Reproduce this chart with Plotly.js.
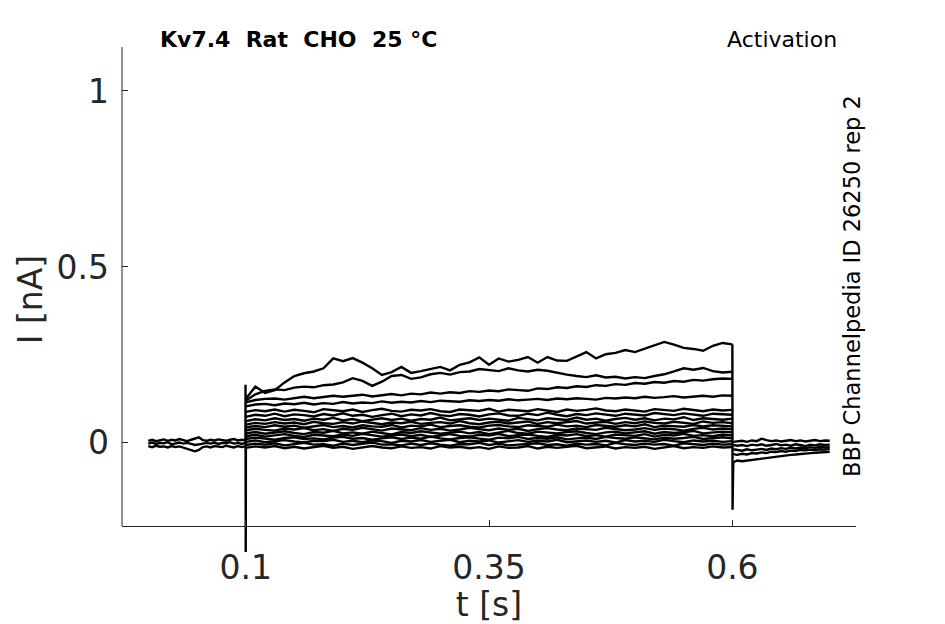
<!DOCTYPE html>
<html>
<head>
<meta charset="utf-8">
<script src="https://cdn.plot.ly/plotly-3.0.1.min.js"></script>
<style>html,body{margin:0;padding:0;background:#fff;}</style>
</head>
<body>
<div id="chart" style="width:945px;height:624px;"></div>
<script>
// Time axes (s)
const tPre = [0,0.004,0.008,0.012,0.016,0.02,0.024,0.028,0.032,0.036,0.04,0.044,0.048,0.052,0.056,0.06,0.064,0.068,0.072,0.076,0.08,0.084,0.088,0.092,0.096,0.0998];
const tPulse = [0.10,0.11,0.12,0.13,0.14,0.15,0.16,0.17,0.18,0.19,0.20,0.21,0.22,0.23,0.24,0.25,0.26,0.27,0.28,0.29,0.30,0.31,0.32,0.33,0.34,0.35,0.36,0.37,0.38,0.39,0.40,0.41,0.42,0.43,0.44,0.45,0.46,0.47,0.48,0.49,0.50,0.51,0.52,0.53,0.54,0.55,0.56,0.57,0.58,0.59,0.60];
const tPost = [0.601,0.605,0.61,0.615,0.62,0.625,0.63,0.635,0.64,0.645,0.65,0.655,0.66,0.665,0.67,0.675,0.68,0.685,0.69,0.695,0.70];
const tOn = [0.0998,0.0999,0.1001,0.1003,0.1006];
const tOff = [0.6,0.6002,0.6005,0.6008,0.601];

// Currents (pA)
const preA = [6,9,5,8,10,6,9,7,11,8,5,9,12,16,8,6,9,7,10,8,6,9,11,7,9,8];
const preB = [-2,1,-3,0,-1,2,-4,-1,1,-2,0,-3,-6,-4,-1,0,-2,1,-3,0,-1,2,-2,0,-3,0];
const preC = [-9,-12,-8,-11,-10,-13,-9,-12,-10,-14,-18,-22,-24,-20,-12,-10,-13,-9,-11,-12,-8,-11,-13,-9,-12,-10];

const iOn = [0,165,-310,40,10];
const iOff = [280,-190,-110,-75,-57];

const step1 = [125,160,142,150,172,190,198,203,212,240,232,241,228,212,193,201,216,199,204,210,216,206,222,229,243,222,240,231,236,244,228,244,234,233,246,258,240,252,256,264,258,267,276,287,279,270,267,262,276,284,280];
const step2 = [120,138,148,152,150,157,160,158,164,166,172,184,176,162,174,190,193,182,186,195,199,194,201,203,210,207,204,212,206,203,208,205,199,194,190,187,192,186,188,183,187,184,190,195,203,212,208,213,204,200,202];
const step3 = [115,122,125,126,123,128,131,127,130,134,131,133,137,132,136,139,135,140,138,143,140,144,142,147,145,149,147,152,150,148,155,153,158,156,161,159,164,162,167,165,170,168,173,171,176,174,179,177,181,183,182];
const step4 = [104,109,111,107,112,110,114,109,113,111,116,112,115,113,118,114,117,115,119,116,120,118,117,121,119,122,120,124,121,123,125,122,126,124,127,125,123,128,126,129,127,131,128,130,133,129,132,134,131,135,134];
const step5 = [88,93,90,95,89,94,91,87,96,92,90,95,88,93,97,91,89,94,92,96,90,88,95,93,91,97,89,94,92,90,96,93,88,95,91,94,98,92,90,95,93,89,96,94,91,97,93,90,95,92,94];
const step6 = [74,80,77,83,76,81,79,75,82,78,84,77,80,74,79,83,76,81,78,85,79,76,82,80,75,81,84,78,77,83,79,86,80,76,82,79,84,81,77,83,80,78,85,81,79,84,80,77,83,82,80];
const step7 = [62,67,64,70,65,68,63,69,66,71,64,68,62,67,70,65,69,63,68,66,72,64,67,70,65,69,66,63,71,67,64,70,68,65,72,66,69,63,68,71,66,70,64,69,67,73,65,70,68,66,69];
const step8 = [52,57,54,59,55,58,53,60,56,54,59,55,61,57,53,58,56,60,54,57,59,55,62,56,53,58,60,55,57,61,54,59,56,58,62,55,57,60,54,59,56,61,57,55,60,58,54,61,57,59,56];
const step9 = [44,48,45,50,46,49,43,47,51,45,48,44,50,47,46,51,44,49,47,52,45,48,50,46,44,49,51,47,45,50,48,46,52,47,49,45,51,48,46,50,47,53,45,49,48,46,51,47,50,48,47];
const step10 = [36,40,37,35,41,38,42,36,39,34,40,37,43,38,35,41,39,36,42,37,40,35,38,43,39,36,41,37,40,34,39,42,38,36,41,39,37,43,40,36,38,42,37,41,39,35,40,43,38,41,39];
const step11 = [27,31,26,30,33,28,25,31,29,34,27,30,26,32,29,24,31,28,33,30,26,29,32,27,31,25,30,34,28,26,32,29,27,31,33,28,25,30,32,27,29,33,26,31,28,30,34,27,29,32,30];
const step12 = [19,23,18,22,25,20,17,23,21,19,24,20,26,22,18,21,24,19,23,17,22,25,20,18,23,21,26,19,22,24,20,17,23,21,25,19,22,18,24,21,20,25,18,23,21,26,20,22,19,24,21];
const step13 = [11,15,12,9,14,16,11,13,10,15,17,12,14,9,13,16,11,15,12,18,13,10,14,16,12,9,15,13,17,11,14,12,16,10,13,15,11,17,14,12,16,13,10,15,12,14,17,11,13,16,13];
const step14 = [3,7,2,6,8,4,1,6,5,9,3,6,2,7,5,0,6,4,8,3,5,9,2,6,4,7,1,5,8,3,6,4,9,2,5,7,3,6,1,8,4,6,3,9,5,2,7,4,6,3,5];
const step15 = [-6,-2,-5,-1,-7,-3,0,-5,-4,-8,-2,-6,-3,1,-5,-4,-7,-2,-6,-1,-5,-8,-3,-4,0,-6,-2,-7,-5,-3,-1,-6,-4,-8,-2,-5,-3,-7,0,-4,-6,-2,-5,-3,-8,-1,-4,-6,-2,-5,-4];
const step16 = [-14,-10,-13,-9,-15,-11,-16,-12,-8,-14,-11,-17,-12,-9,-13,-15,-10,-14,-12,-16,-9,-13,-11,-15,-12,-17,-10,-14,-13,-9,-16,-11,-14,-12,-8,-15,-13,-10,-16,-12,-14,-11,-17,-13,-9,-15,-12,-14,-10,-13,-12];

const postA = [3,4,6,3,7,5,12,8,5,7,4,6,8,5,7,4,6,8,5,7,6];
const postB = [-6,-8,-6,-9,-5,-7,-4,-8,-6,-3,-7,-5,-8,-4,-6,-9,-5,-7,-4,-6,-5];
const postD = [-18,-20,-22,-18,-21,-19,-17,-20,-16,-18,-15,-17,-14,-16,-13,-15,-12,-14,-11,-13,-12];
const postE = [-32,-34,-31,-33,-29,-30,-27,-29,-25,-26,-23,-25,-22,-23,-20,-21,-19,-20,-18,-19,-17];
const postC = [-55,-50,-52,-50,-48,-47,-45,-44,-41,-40,-37,-36,-34,-33,-31,-30,-29,-28,-27,-26,-25];

const xTicks = [0.1,0.35,0.6];
const xTickText = ['0.1','0.35','0.6'];
const yTicks = [0,0.5,1];
const yTickText = ['0','0.5','1'];

const toNA = a => a.map(v => v/1000);
const segs = [
  [tPre,preA],[tPre,preB],[tPre,preC],
  [tOn,iOn],
  [tPulse,step16],[tPulse,step15],[tPulse,step14],[tPulse,step13],[tPulse,step12],[tPulse,step11],
  [tPulse,step10],[tPulse,step9],[tPulse,step8],[tPulse,step7],[tPulse,step6],[tPulse,step5],
  [tPulse,step4],[tPulse,step3],[tPulse,step2],[tPulse,step1],
  [tOff,iOff],
  [tPost,postA],[tPost,postB],[tPost,postD],[tPost,postE],[tPost,postC]
];
const data = segs.map(([t,i]) => ({
  x:t, y:toNA(i), type:'scatter', mode:'lines',
  line:{color:'#000000', width:2.4}, hoverinfo:'skip'
}));

const axCol = '#262626';
const layout = {
  width:945, height:624,
  margin:{l:122, r:89, t:47, b:72, pad:0},
  paper_bgcolor:'#ffffff', plot_bgcolor:'#ffffff',
  showlegend:false,
  font:{family:'DejaVu Sans', color:axCol},
  xaxis:{
    range:[-0.027,0.727], tickmode:'array', tickvals:xTicks, ticktext:xTickText,
    ticks:'inside', ticklen:6, tickwidth:1, tickcolor:axCol,
    showline:true, linecolor:axCol, linewidth:1, showgrid:false, zeroline:false,
    anchor:'free', position:0.0516,
    ticklabelstandoff:12,
    tickfont:{size:33, color:axCol},
    title:{text:'t [s]', font:{size:33, color:axCol}, standoff:0}
  },
  yaxis:{
    range:[-0.31,1.125], tickmode:'array', tickvals:yTicks, ticktext:yTickText,
    ticks:'inside', ticklen:6, tickwidth:1, tickcolor:axCol,
    showline:false, showgrid:false, zeroline:false,
    ticklabelstandoff:12,
    tickfont:{size:33, color:axCol},
    title:{text:'I [nA]', font:{size:33, color:axCol}, standoff:3}
  },
  shapes:[{type:'line', xref:'paper', x0:0, x1:0, yref:'y', y0:-0.236, y1:1.125,
           line:{color:axCol, width:1}}],
  annotations:[
    {text:'<b>Kv7.4\u00a0\u00a0Rat\u00a0\u00a0CHO\u00a0\u00a025 °C</b>', xref:'paper', yref:'paper',
     x:0.049, y:1.0139, xanchor:'left', yanchor:'middle', showarrow:false,
     font:{size:22, color:'#000000', family:'DejaVu Sans'}},
    {text:'Activation', xref:'paper', yref:'paper', x:0.9775, y:1.0158,
     xanchor:'right', yanchor:'middle', showarrow:false,
     font:{size:22, color:'#000000', family:'DejaVu Sans'}},
    {text:'BBP Channelpedia ID 26250 rep 2', xref:'paper', yref:'paper',
     x:0.9945, y:0.5267, xanchor:'center', yanchor:'middle', textangle:-90, showarrow:false,
     font:{size:22.5, color:'#000000', family:'DejaVu Sans'}}
  ]
};

Plotly.newPlot('chart', data, layout, {displayModeBar:false, staticPlot:true});
</script>
</body>
</html>
